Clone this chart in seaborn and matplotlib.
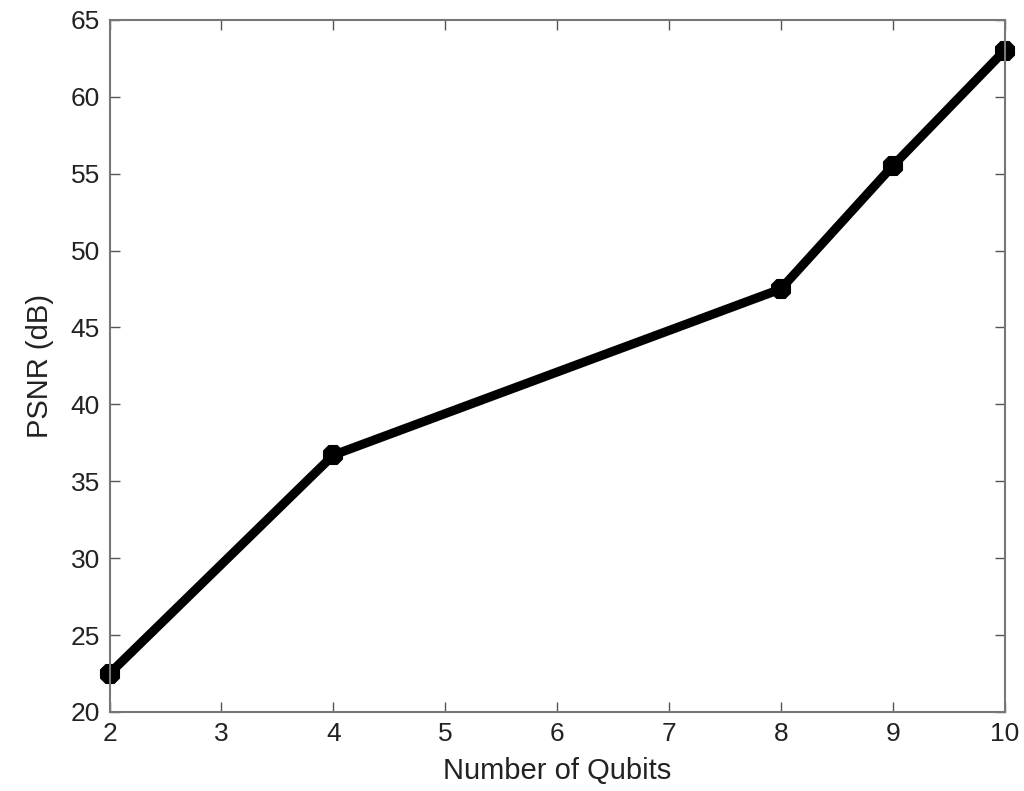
import matplotlib
matplotlib.use("Agg")
import matplotlib.pyplot as plt
import seaborn as sns
import pandas as pd

# values
qubits = [2, 4, 8, 9, 10]
psnr_db = [22.5, 36.7, 47.5, 55.5, 63.0]
x_ticks = [2, 3, 4, 5, 6, 7, 8, 9, 10]
y_ticks = [20, 25, 30, 35, 40, 45, 50, 55, 60, 65]

df = pd.DataFrame({"qubits": qubits, "psnr": psnr_db})

sns.set_theme(style="white")
plt.rcParams["font.family"] = ["Liberation Sans", "DejaVu Sans"]

fig = plt.figure(figsize=(10.24, 7.91), dpi=100)
ax = fig.add_axes([0.107, 0.0999, 0.874, 0.875])

sns.lineplot(data=df, x="qubits", y="psnr", ax=ax, color="black",
             linewidth=6.5, marker="8", markersize=14,
             markeredgecolor="black", markeredgewidth=1.5, clip_on=False)

ax.set_xlim(2, 10)
ax.set_ylim(20, 65)
ax.set_xticks(x_ticks)
ax.set_yticks(y_ticks)
ax.tick_params(direction="in", length=7, width=1, color="#555555",
               top=True, right=True, bottom=True, left=True,
               labelsize=19, pad=7, labelcolor="#222222")
for side in ax.spines.values():
    side.set_color("#777777")
    side.set_linewidth(1.5)

ax.set_xlabel("Number of Qubits", fontsize=21, color="#222222", labelpad=8)
ax.set_ylabel("PSNR (dB)", fontsize=21, color="#222222", labelpad=12)

fig.savefig("out.png", dpi=100)
